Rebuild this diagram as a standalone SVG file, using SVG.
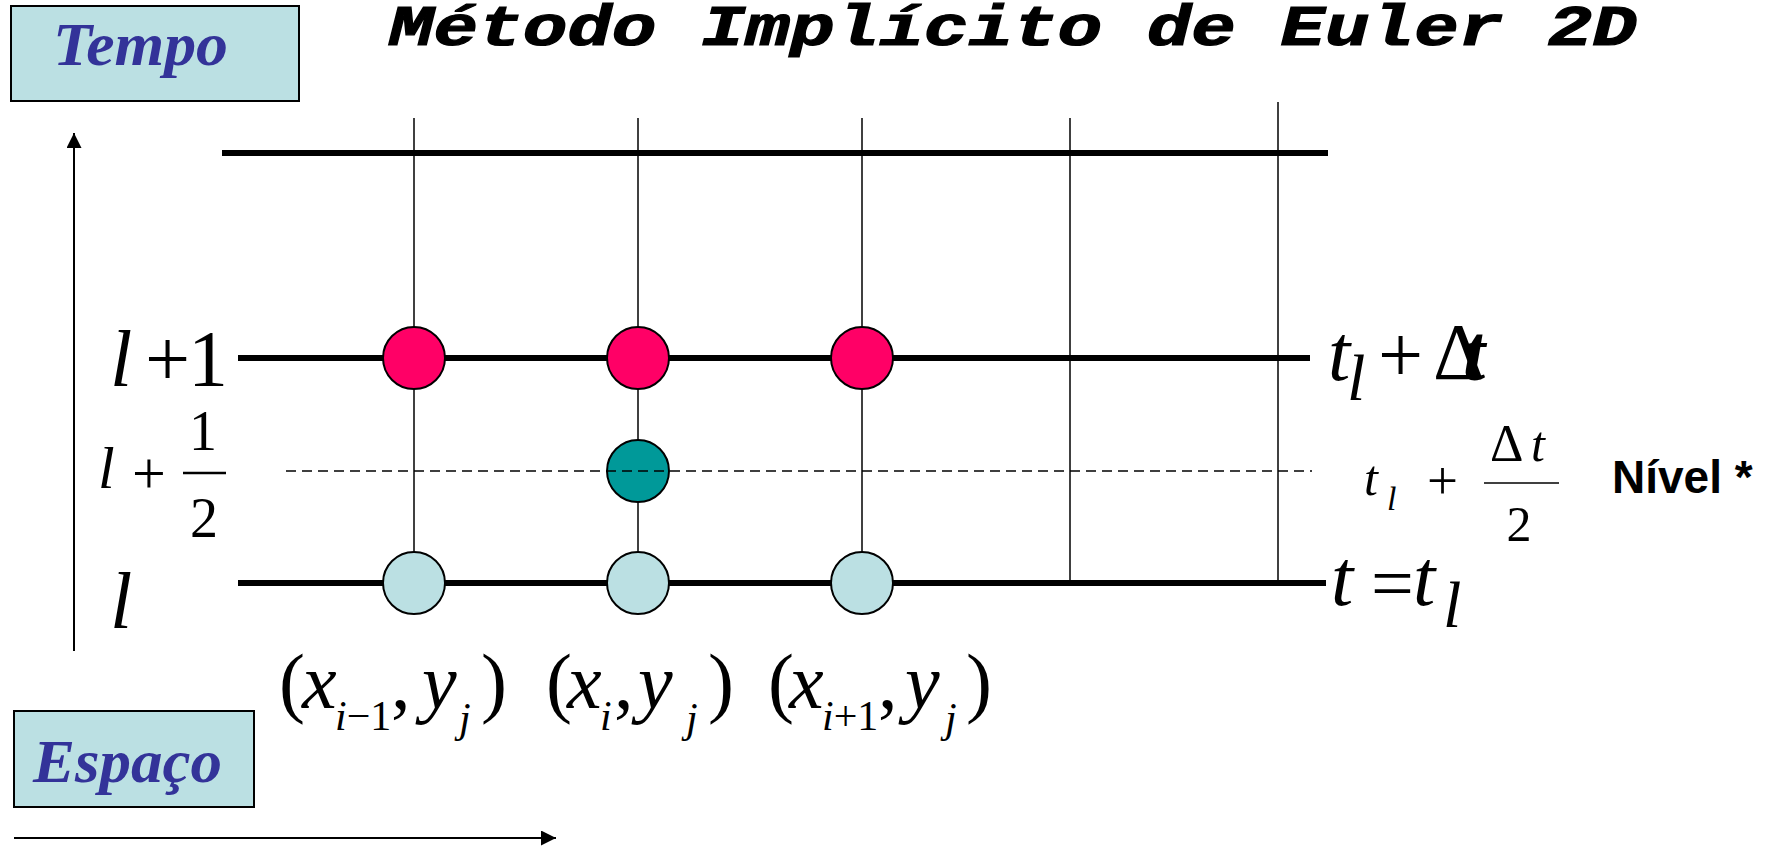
<svg xmlns="http://www.w3.org/2000/svg" width="1765" height="846" viewBox="0 0 1765 846">
<style>
.box{fill:#BBE0E3;stroke:#000;stroke-width:2}
.lbl{font-family:"Liberation Serif",serif;font-style:italic;font-weight:bold;fill:#333399;font-size:61px}
.thick{stroke:#000;stroke-width:6}
.thin{stroke:#000;stroke-width:1.5}
.dash{stroke:#000;stroke-width:1.3;stroke-dasharray:10 6}
.axis{stroke:#000;stroke-width:2}
.red{fill:#FF0066;stroke:#000;stroke-width:2}
.teal{fill:#009999;stroke:#000;stroke-width:2}
.lb{fill:#BBE0E3;stroke:#000;stroke-width:2}
.m{font-family:"Liberation Serif",serif;fill:#000}
.i{font-style:italic}
</style>
<defs>
<marker id="ah" markerUnits="userSpaceOnUse" markerWidth="16" markerHeight="16" refX="15" refY="7.5" orient="auto">
<path d="M0,0 L15,7.5 L0,15 Z" fill="#000"/>
</marker>
</defs>

<text x="389" y="45" font-family="'Liberation Mono',monospace" font-weight="bold" font-style="italic" font-size="58" stroke="#000" stroke-width="1.2" textLength="1248" lengthAdjust="spacingAndGlyphs">Método Implícito de Euler 2D</text>

<g id="connectors">
<line class="axis" x1="74" y1="651" x2="74" y2="133" marker-end="url(#ah)"/>
<line class="axis" x1="14" y1="838" x2="556" y2="838" marker-end="url(#ah)"/>
<line class="thick" x1="222" y1="153" x2="1328" y2="153"/>
<line class="thick" x1="238" y1="358" x2="1310" y2="358"/>
<line class="thick" x1="238" y1="583" x2="1326" y2="583"/>
<line class="thin" x1="414" y1="118" x2="414" y2="583"/>
<line class="thin" x1="638" y1="118" x2="638" y2="583"/>
<line class="thin" x1="862" y1="118" x2="862" y2="583"/>
<line class="thin" x1="1070" y1="118" x2="1070" y2="583"/>
<line class="thin" x1="1278" y1="102" x2="1278" y2="583"/>
</g>

<g id="tempo">
<rect class="box" x="11" y="6" width="288" height="95"/>
<text class="lbl" x="53" y="65" textLength="175" lengthAdjust="spacingAndGlyphs">Tempo</text>
</g>
<g id="espaco">
<rect class="box" x="14" y="711" width="240" height="96"/>
<text class="lbl" x="33" y="782" textLength="189" lengthAdjust="spacingAndGlyphs">Espaço</text>
</g>

<g id="node-a1"><circle class="red" cx="414" cy="358" r="31"/></g>
<g id="node-b1"><circle class="red" cx="638" cy="358" r="31"/></g>
<g id="node-c1"><circle class="red" cx="862" cy="358" r="31"/></g>
<g id="node-bh"><circle class="teal" cx="638" cy="471" r="31"/></g>
<g id="node-a0"><circle class="lb" cx="414" cy="583" r="31"/></g>
<g id="node-b0"><circle class="lb" cx="638" cy="583" r="31"/></g>
<g id="node-c0"><circle class="lb" cx="862" cy="583" r="31"/></g>

<g id="half-level">
<line class="dash" x1="286" y1="471" x2="1312" y2="471"/>
</g>

<g id="left-labels">
<text class="m i" x="110" y="386" font-size="80">l</text>
<text class="m" x="145" y="386" font-size="80">+</text>
<text class="m" x="188" y="386" font-size="80">1</text>
<text class="m i" x="98" y="488" font-size="60">l</text>
<text class="m" x="132" y="493" font-size="60">+</text>
<text class="m" x="203" y="450" font-size="56" text-anchor="middle">1</text>
<line x1="183" y1="473" x2="226" y2="473" stroke="#000" stroke-width="2.5"/>
<text class="m" x="204" y="537" font-size="56" text-anchor="middle">2</text>
<text class="m i" x="110" y="628" font-size="80">l</text>
</g>

<g id="right-labels">
<text class="m i" x="1328" y="380" font-size="80">t</text>
<text class="m i" x="1347" y="400" font-size="66">l</text>
<text class="m" x="1378" y="382" font-size="80">+</text>
<text class="m" x="1433" y="379" font-size="80">Δ</text>
<text class="m i" x="1463" y="380" font-size="80" font-weight="bold">t</text>

<text class="m i" x="1364" y="495" font-size="50">t</text>
<text class="m i" x="1387" y="510" font-size="34">l</text>
<text class="m" x="1427" y="499" font-size="55">+</text>
<line x1="1484" y1="483" x2="1559" y2="483" stroke="#000" stroke-width="1.5"/>
<text class="m" x="1490" y="461" font-size="52">Δ</text>
<text class="m i" x="1531" y="461" font-size="50">t</text>
<text class="m" x="1519" y="541" font-size="50" text-anchor="middle">2</text>
<text x="1612" y="493" font-family="'Liberation Sans',Arial,sans-serif" font-weight="bold" font-size="46">Nível *</text>

<text class="m i" x="1331" y="605" font-size="80">t</text>
<text class="m" x="1371" y="609" font-size="76">=</text>
<text class="m i" x="1413" y="605" font-size="80">t</text>
<text class="m i" x="1443" y="627" font-size="66">l</text>
</g>

<g id="bottom-labels" font-size="78">
<text class="m" x="279" y="708">(</text>
<text class="m i" x="302" y="708">x</text>
<text class="m" x="335" y="730" font-size="42"><tspan class="i">i</tspan>−1</text>
<text class="m" x="391" y="708">,</text>
<text class="m i" x="422" y="708">y</text>
<text class="m i" x="459" y="732" font-size="42">j</text>
<text class="m" x="481" y="708">)</text>

<text class="m" x="546" y="708">(</text>
<text class="m i" x="567" y="708">x</text>
<text class="m i" x="600" y="730" font-size="42">i</text>
<text class="m" x="614" y="708">,</text>
<text class="m i" x="638" y="708">y</text>
<text class="m i" x="686" y="732" font-size="42">j</text>
<text class="m" x="708" y="708">)</text>

<text class="m" x="768" y="708">(</text>
<text class="m i" x="789" y="708">x</text>
<text class="m" x="822" y="730" font-size="42"><tspan class="i">i</tspan>+1</text>
<text class="m" x="878" y="708">,</text>
<text class="m i" x="905" y="708">y</text>
<text class="m i" x="945" y="732" font-size="42">j</text>
<text class="m" x="966" y="708">)</text>
</g>
</svg>
